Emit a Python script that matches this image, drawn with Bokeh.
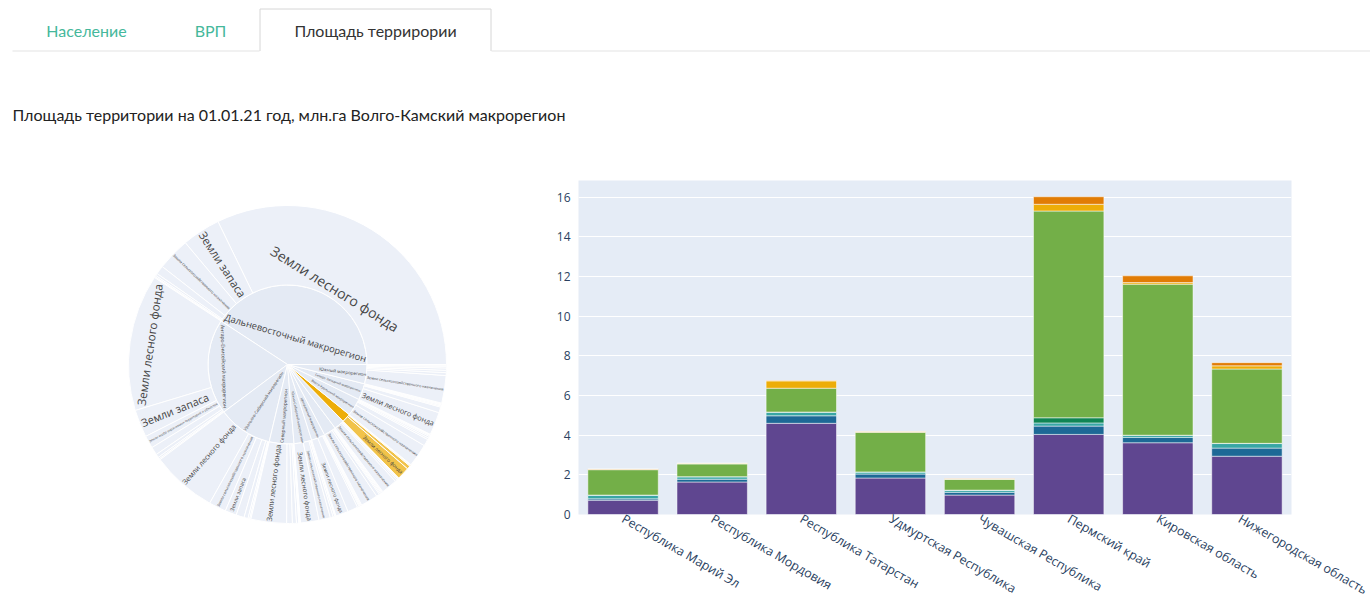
import math
from bokeh.plotting import figure
from bokeh.models import Range1d, FactorRange, ColumnDataSource, FixedTicker
from bokeh.layouts import column, row
from bokeh.embed import file_html
from bokeh.resources import INLINE
from bokeh.core.properties import value

# ---------------- data ----------------
tab_labels = ["Население", "ВРП", "Площадь террирории"]
page_title = "Площадь территории на 01.01.21 год, млн.га Волго-Камский макрорегион"

land_categories = [
    "Земли сельскохозяйственного назначения",
    "Земли населенных пунктов",
    "Земли промышленности и иного специального назначения",
    "Земли особо охраняемых территорий и объектов",
    "Земли лесного фонда",
    "Земли водного фонда",
    "Земли запаса",
]
category_colors = ["#5F4690", "#1D6996", "#38A6A5", "#0F8554", "#73AF48", "#EDAD08", "#E17C05"]

# bar chart: regions of the Volga-Kama macroregion, mln ha
regions = [
    "Республика Марий Эл", "Республика Мордовия", "Республика Татарстан",
    "Удмуртская Республика", "Чувашская Республика", "Пермский край",
    "Кировская область", "Нижегородская область",
]
bar_agri      = [0.72, 1.64, 4.60, 1.84, 0.98, 4.04, 3.62, 2.94]
bar_settl     = [0.07, 0.14, 0.38, 0.20, 0.14, 0.42, 0.27, 0.41]
bar_indus     = [0.18, 0.12, 0.17, 0.10, 0.10, 0.16, 0.10, 0.23]
bar_protected = [0.01, 0.01, 0.02, 0.01, 0.01, 0.26, 0.01, 0.01]
bar_forest    = [1.28, 0.64, 1.20, 2.00, 0.55, 10.43, 7.62, 3.75]
bar_water     = [0.02, 0.03, 0.37, 0.02, 0.01, 0.34, 0.08, 0.16]
bar_reserve   = [0.02, 0.01, 0.02, 0.02, 0.01, 0.38, 0.34, 0.16]
y_ticks = [0, 2, 4, 6, 8, 10, 12, 14, 16]

# sunburst: macroregions of Russia -> land categories, mln ha
macroregions = [
    "Дальневосточный макрорегион", "Ангаро-Енисейский макрорегион",
    "Уральско-Сибирский макрорегион", "Северный макрорегион",
    "Южно-Сибирский макрорегион", "Центральный макрорегион",
    "Северо-Кавказский макрорегион", "Центрально-Черноземный макрорегион",
    "Волго-Камский макрорегион", "Волго-Уральский макрорегион",
    "Северо-Западный макрорегион", "Южный макрорегион",
]
sb_agri      = [57, 14, 30, 7, 20, 18, 30, 28, 6, 40, 10, 48]
sb_settl     = [1.5, 2, 2, 0.5, 0.4, 3, 2, 2.5, 1.2, 3, 1, 3]
sb_indus     = [2.5, 3, 3, 1, 0.6, 1.5, 0.8, 1, 0.5, 1.2, 0.5, 1]
sb_protected = [15, 22, 14, 10, 3, 1.5, 1.5, 0.5, 0.8, 2, 2, 2]
sb_forest    = [552, 238, 114, 62, 32, 22, 5.5, 3.5, 22, 12, 40, 5]
sb_water     = [4, 6, 7, 1.5, 1, 1, 1.2, 0.3, 0.3, 0.8, 1.5, 4]
sb_reserve   = [67, 48, 20, 4, 5, 1, 2, 0.2, 0.2, 3, 2, 4]
highlighted = "Волго-Камский макрорегион"

FONT = "Open Sans"
AXIS_COLOR = "#2a3f5f"
PAGE_W = 1370
HDR_H = 158
ROW_H = 450
SB_W = 540
FRAME_TOP = 22          # bar frame starts 22px below the row top; row frames are aligned

# ---------------- header ----------------
hdr = figure(width=PAGE_W, height=HDR_H, x_range=Range1d(0, PAGE_W), y_range=Range1d(HDR_H, 0),
             toolbar_location=None, output_backend="svg", min_border=0,
             x_axis_type=None, y_axis_type=None)
hdr.grid.visible = False
hdr.outline_line_color = None
hdr.segment(x0=[12, 491], y0=[50.5, 50.5], x1=[259, PAGE_W], y1=[50.5, 50.5],
            line_color="#e3e3e3", line_width=1)
hdr.multi_line(xs=[[259.5, 259.5, 490.5, 490.5]], ys=[[50.5, 8.5, 8.5, 50.5]],
               line_color="#d6d6d6", line_width=1)
hdr.text(x=[86, 210, 375], y=[30, 30, 30], text=tab_labels,
         text_color=["#45b89b", "#45b89b", "#333333"],
         text_align="center", text_baseline="middle",
         text_font=value("Lato"), text_font_size="16px")
hdr.text(x=[12], y=[114], text=[page_title], text_color="#222222",
         text_align="left", text_baseline="middle",
         text_font=value("Lato"), text_font_size="16px")

# ---------------- sunburst ----------------
R_OUT = 159.0
R_MID = 79.5
SB_FRAME_H = ROW_H - FRAME_TOP
CX, CY = 287, 364 - HDR_H - FRAME_TOP   # centre, pixels from the frame's top-left
sb = figure(frame_width=SB_W, frame_height=SB_FRAME_H,
            x_range=Range1d(-CX, SB_W - CX), y_range=Range1d(-(SB_FRAME_H - CY), CY),
            toolbar_location=None, output_backend="svg", min_border=0,
            x_axis_type=None, y_axis_type=None)
sb.grid.visible = False
sb.outline_line_color = None

sb_cols = [sb_agri, sb_settl, sb_indus, sb_protected, sb_forest, sb_water, sb_reserve]
n_macro = len(macroregions)
macro_tot = [sum(col[i] for col in sb_cols) for i in range(n_macro)]
grand = sum(macro_tot)
scale = 2 * math.pi / grand


def text_em(s):
    w = 0.0
    for ch in s:
        if ch == " ":
            w += 0.26
        elif ch in ".,":
            w += 0.25
        elif ch == "-":
            w += 0.32
        elif ch.isupper():
            w += 0.64
        elif ch in "мшщжфыю":
            w += 0.78
        else:
            w += 0.55
    return w


def box_ok(f, tw, r, r_in, r_out, half, orient):
    w = tw * f
    h = 1.1 * f
    pad = 1.5
    if orient == "tan":
        us = (r - h / 2, r + h / 2)
        vs = (-w / 2, w / 2)
    else:
        us = (r - w / 2, r + w / 2)
        vs = (-h / 2, h / 2)
    if r_in > 0 and us[0] < r_in + pad:
        return False
    for u in us:
        for v in vs:
            rho = math.hypot(u, v)
            if rho > r_out - pad:
                return False
            ang = abs(math.atan2(v, u))
            if ang > half - pad / max(rho, 1.0):
                return False
    return True


def fit_label(s, r_in, r_out, a0, a1, fmax=14.0):
    tw = text_em(s)
    half = (a1 - a0) / 2
    best = (0.0, (r_in + r_out) / 2, "tan")
    for orient in ("tan", "rad"):
        for i in range(41):
            r = r_in + (r_out - r_in) * i / 40
            if not box_ok(0.5, tw, r, r_in, r_out, half, orient):
                continue
            lo, hi = 0.5, fmax
            if box_ok(hi, tw, r, r_in, r_out, half, orient):
                lo = hi
            else:
                for _ in range(18):
                    mid = (lo + hi) / 2
                    if box_ok(mid, tw, r, r_in, r_out, half, orient):
                        lo = mid
                    else:
                        hi = mid
            if lo > best[0] + 1e-6:
                best = (lo, r, orient)
    return best


def norm_angle(a):
    while a > math.pi / 2:
        a -= math.pi
    while a <= -math.pi / 2:
        a += math.pi
    return a


inner = dict(start=[], end=[], color=[])
outer = dict(start=[], end=[], color=[])
labels = dict(x=[], y=[], text=[], angle=[], fs=[])


def add_label(s, r_in, r_out, a0, a1):
    f, r, orient = fit_label(s, r_in, r_out, a0, a1)
    if f < 3.0:
        return
    mid = (a0 + a1) / 2
    labels["x"].append(r * math.cos(mid))
    labels["y"].append(r * math.sin(mid))
    labels["text"].append(s)
    rot = mid - math.pi / 2 if orient == "tan" else mid
    labels["angle"].append(norm_angle(rot))
    labels["fs"].append("%.1fpx" % f)


acc = 0.0
for i, name in enumerate(macroregions):
    a0 = acc * scale
    a1 = (acc + macro_tot[i]) * scale
    hi_on = name == highlighted
    inner["start"].append(a0)
    inner["end"].append(a1)
    inner["color"].append("#EDAD08" if hi_on else "#E4EAF4")
    add_label(name, 0.0, R_MID, a0, a1)
    order = sorted(range(len(land_categories)), key=lambda k: -sb_cols[k][i])
    sub = acc
    for k in order:
        v = sb_cols[k][i]
        b0 = sub * scale
        b1 = (sub + v) * scale
        outer["start"].append(b0)
        outer["end"].append(b1)
        outer["color"].append("#F1C34A" if hi_on else "#ECF0F8")
        add_label(land_categories[k], R_MID, R_OUT, b0, b1)
        sub += v
    acc += macro_tot[i]

sb.wedge(x=0, y=0, radius=R_MID, start_angle="start", end_angle="end",
         fill_color="color", line_color="white", line_width=1,
         source=ColumnDataSource(inner))
sb.annular_wedge(x=0, y=0, inner_radius=R_MID, outer_radius=R_OUT,
                 start_angle="start", end_angle="end",
                 fill_color="color", line_color="white", line_width=1,
                 source=ColumnDataSource(outer))
sb.text(x="x", y="y", text="text", angle="angle", text_font_size="fs",
        text_align="center", text_baseline="middle", text_color="#444444",
        text_font=value(FONT), source=ColumnDataSource(labels))

# ---------------- stacked bar chart ----------------
series_keys = ["agri", "settl", "indus", "protected", "forest", "water", "reserve"]
bar_src = ColumnDataSource(dict(
    region=regions, agri=bar_agri, settl=bar_settl, indus=bar_indus,
    protected=bar_protected, forest=bar_forest, water=bar_water, reserve=bar_reserve,
))
bar = figure(width=PAGE_W - SB_W, height=ROW_H,
             x_range=FactorRange(factors=regions, range_padding=0),
             y_range=Range1d(0, 16.85), toolbar_location=None, output_backend="svg",
             min_border_left=38, min_border_right=PAGE_W - 1291, min_border_top=FRAME_TOP,
             min_border_bottom=60)
bar.vbar_stack(series_keys, x="region", width=0.79, fill_color=category_colors,
               line_color="white", line_alpha=0.5, line_width=1, source=bar_src)
bar.background_fill_color = "#E5ECF6"
bar.outline_line_color = None
bar.xgrid.grid_line_color = None
bar.ygrid.grid_line_color = "white"
bar.ygrid.grid_line_width = 1
bar.yaxis.ticker = FixedTicker(ticks=y_ticks)
for ax in (bar.xaxis[0], bar.yaxis[0]):
    ax.axis_line_color = None
    ax.major_tick_line_color = None
    ax.minor_tick_line_color = None
    ax.major_tick_in = 0
    ax.major_tick_out = 0
    ax.major_label_text_font = FONT
    ax.major_label_text_color = AXIS_COLOR
bar.yaxis.major_label_text_font_size = "12px"
bar.xaxis.major_label_text_font_size = "12.5px"
bar.yaxis.major_label_standoff = 8
bar.xaxis.major_label_standoff = 3
bar.xaxis.major_label_orientation = -math.pi / 6

layout = column(hdr, row(sb, bar, spacing=0), spacing=0)
open("out.html", "w").write(file_html(layout, INLINE))
